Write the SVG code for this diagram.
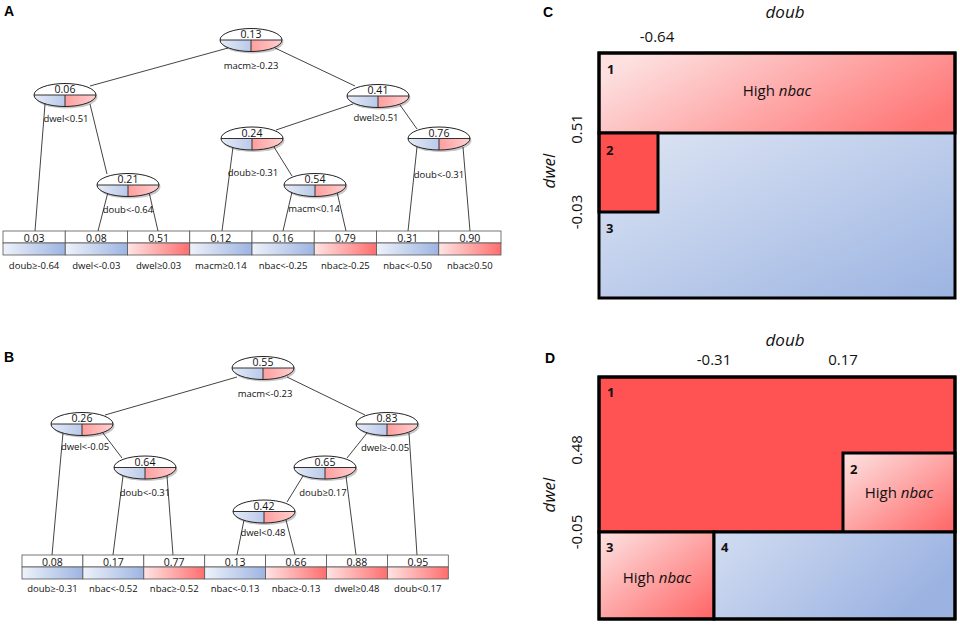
<svg xmlns="http://www.w3.org/2000/svg" width="960" height="626" viewBox="0 0 960 626">
<style>
.t{font-family:"Open Sans","Noto Sans","Liberation Sans",sans-serif;fill:#111}
.v{font-size:10.5px;text-anchor:middle}
.lb{font-size:9.5px;text-anchor:middle}
.pl{font-family:"Liberation Sans",Arial,sans-serif;font-weight:bold;font-size:14px;fill:#000}
.ax{font-size:17px;font-style:italic;text-anchor:middle}
.tk{font-size:15px;text-anchor:middle}
.hi{font-size:15px;text-anchor:middle}
.num{font-size:13px;font-weight:bold}
.cn line{stroke:#444;stroke-width:1}
.rb{stroke:#000;stroke-width:3}
.lt{fill:#fff;stroke:#555;stroke-width:0.8}
.lbB{fill:url(#lB);stroke:#555;stroke-width:0.8}
.lbR{fill:url(#lR);stroke:#555;stroke-width:0.8}
</style>
<defs>
<linearGradient id="gB" x1="0" y1="0" x2="1" y2="0"><stop offset="0" stop-color="#e6ecf7"/><stop offset="1" stop-color="#b9c9e9"/></linearGradient>
<linearGradient id="gR" x1="0" y1="0" x2="1" y2="0"><stop offset="0" stop-color="#ff9e9e"/><stop offset="1" stop-color="#ffd0d0"/></linearGradient>
<linearGradient id="lB" x1="0" y1="0" x2="1" y2="0"><stop offset="0" stop-color="#eef2fa"/><stop offset="1" stop-color="#9db4e2"/></linearGradient>
<linearGradient id="lR" x1="0" y1="0" x2="1" y2="0"><stop offset="0" stop-color="#ffe4e4"/><stop offset="1" stop-color="#ff6e6e"/></linearGradient>
<linearGradient id="c1" x1="0" y1="0.3" x2="1" y2="0.7"><stop offset="0" stop-color="#fde0e0"/><stop offset="1" stop-color="#ff7676"/></linearGradient>
<linearGradient id="cBl" x1="0" y1="0" x2="1" y2="1"><stop offset="0" stop-color="#dfe6f4"/><stop offset="1" stop-color="#9cb4e2"/></linearGradient>
<linearGradient id="dBl" x1="0" y1="0" x2="1" y2="0.4"><stop offset="0" stop-color="#d3ddf1"/><stop offset="1" stop-color="#9cb3e2"/></linearGradient>
<linearGradient id="dPk" x1="0" y1="0" x2="1" y2="1"><stop offset="0" stop-color="#fde4e4"/><stop offset="1" stop-color="#ff6464"/></linearGradient>
<g id="nd">
<ellipse cx="1.5" cy="2" rx="31" ry="11.5" fill="#000" opacity="0.22"/>
<ellipse rx="31" ry="11.5" fill="#fff"/>
<path d="M-31,0 A31,11.5 0 0 0 0,11.5 L0,0 Z" fill="url(#gB)"/>
<path d="M0,11.5 A31,11.5 0 0 0 31,0 L0,0 Z" fill="url(#gR)"/>
<path d="M-31,0 H31 M0,0 V11.5" stroke="#333" stroke-width="1" fill="none"/>
<ellipse rx="31" ry="11.5" fill="none" stroke="#222" stroke-width="1"/>
</g>
</defs>

<!-- Panel A -->
<text class="pl" x="4" y="16">A</text>
<g class="cn" id="connA">
<line x1="228" y1="48" x2="90" y2="86"/>
<line x1="275" y1="48" x2="355" y2="86"/>
<line x1="45" y1="104" x2="35" y2="231"/>
<line x1="90" y1="104" x2="107" y2="174"/>
<line x1="108" y1="192" x2="98" y2="231"/>
<line x1="149" y1="192" x2="158" y2="231"/>
<line x1="353" y1="104" x2="276" y2="130"/>
<line x1="400" y1="105" x2="417" y2="129"/>
<line x1="233" y1="147" x2="222" y2="231"/>
<line x1="274" y1="147" x2="292" y2="176"/>
<line x1="292" y1="192" x2="283" y2="231"/>
<line x1="337" y1="192" x2="346" y2="231"/>
<line x1="417" y1="147" x2="408" y2="231"/>
<line x1="463" y1="147" x2="470" y2="231"/>
</g>
<g id="a013"><use href="#nd" x="251" y="40"/><text class="t v" x="251" y="38">0.13</text><text class="t lb" x="251" y="69">macm≥-0.23</text></g>
<g id="a006"><use href="#nd" x="65" y="95"/><text class="t v" x="65" y="93">0.06</text><text class="t lb" x="66" y="122">dwel&lt;0.51</text></g>
<g id="a041"><use href="#nd" x="378" y="96"/><text class="t v" x="378" y="94">0.41</text><text class="t lb" x="376" y="121">dwel≥0.51</text></g>
<g id="a024"><use href="#nd" x="252" y="138.5"/><text class="t v" x="252" y="136.5">0.24</text><text class="t lb" x="253" y="176">doub≥-0.31</text></g>
<g id="a076"><use href="#nd" x="439" y="138.5"/><text class="t v" x="439" y="136.5">0.76</text><text class="t lb" x="439" y="178">doub&lt;-0.31</text></g>
<g id="a021"><use href="#nd" x="128" y="185"/><text class="t v" x="128" y="183">0.21</text><text class="t lb" x="128" y="213">doub&lt;-0.64</text></g>
<g id="a054"><use href="#nd" x="315" y="185"/><text class="t v" x="315" y="183">0.54</text><text class="t lb" x="314" y="212">macm&lt;0.14</text></g>

<g id="aLeaves">
<g id="aL1"><rect class="lt" x="3" y="231" width="62.25" height="12"/><rect class="lbB" x="3" y="243" width="62.25" height="12"/><text class="t v" x="34.1" y="241.5">0.03</text><text class="t lb" x="34.1" y="269">doub≥-0.64</text></g>
<g id="aL2"><rect class="lt" x="65.25" y="231" width="62.25" height="12"/><rect class="lbB" x="65.25" y="243" width="62.25" height="12"/><text class="t v" x="96.4" y="241.5">0.08</text><text class="t lb" x="96.4" y="269">dwel&lt;-0.03</text></g>
<g id="aL3"><rect class="lt" x="127.5" y="231" width="62.25" height="12"/><rect class="lbR" x="127.5" y="243" width="62.25" height="12"/><text class="t v" x="158.6" y="241.5">0.51</text><text class="t lb" x="158.6" y="269">dwel≥0.03</text></g>
<g id="aL4"><rect class="lt" x="189.75" y="231" width="62.25" height="12"/><rect class="lbB" x="189.75" y="243" width="62.25" height="12"/><text class="t v" x="220.9" y="241.5">0.12</text><text class="t lb" x="220.9" y="269">macm≥0.14</text></g>
<g id="aL5"><rect class="lt" x="252" y="231" width="62.25" height="12"/><rect class="lbB" x="252" y="243" width="62.25" height="12"/><text class="t v" x="283.1" y="241.5">0.16</text><text class="t lb" x="283.1" y="269">nbac&lt;-0.25</text></g>
<g id="aL6"><rect class="lt" x="314.25" y="231" width="62.25" height="12"/><rect class="lbR" x="314.25" y="243" width="62.25" height="12"/><text class="t v" x="345.4" y="241.5">0.79</text><text class="t lb" x="345.4" y="269">nbac≥-0.25</text></g>
<g id="aL7"><rect class="lt" x="376.5" y="231" width="62.25" height="12"/><rect class="lbB" x="376.5" y="243" width="62.25" height="12"/><text class="t v" x="407.6" y="241.5">0.31</text><text class="t lb" x="407.6" y="269">nbac&lt;-0.50</text></g>
<g id="aL8"><rect class="lt" x="438.75" y="231" width="62.25" height="12"/><rect class="lbR" x="438.75" y="243" width="62.25" height="12"/><text class="t v" x="469.9" y="241.5">0.90</text><text class="t lb" x="469.9" y="269">nbac≥0.50</text></g>
</g>

<!-- Panel B -->
<text class="pl" x="4" y="362">B</text>
<g class="cn" id="connB">
<line x1="237" y1="377" x2="105" y2="415"/>
<line x1="287" y1="377" x2="365" y2="415"/>
<line x1="63" y1="433" x2="52" y2="555"/>
<line x1="103" y1="433" x2="122" y2="458"/>
<line x1="123" y1="476" x2="113" y2="555"/>
<line x1="167" y1="476" x2="173" y2="555"/>
<line x1="367" y1="433" x2="347" y2="458"/>
<line x1="409" y1="433" x2="417" y2="555"/>
<line x1="303" y1="476" x2="287" y2="502"/>
<line x1="346" y1="476" x2="356" y2="555"/>
<line x1="244" y1="520" x2="237" y2="555"/>
<line x1="286" y1="520" x2="295" y2="555"/>
</g>
<g id="b055"><use href="#nd" x="263" y="368"/><text class="t v" x="263" y="366">0.55</text><text class="t lb" x="265" y="397">macm&lt;-0.23</text></g>
<g id="b026"><use href="#nd" x="82" y="424"/><text class="t v" x="82" y="422">0.26</text><text class="t lb" x="85" y="450">dwel&lt;-0.05</text></g>
<g id="b083"><use href="#nd" x="387" y="424"/><text class="t v" x="387" y="422">0.83</text><text class="t lb" x="385" y="451">dwel≥-0.05</text></g>
<g id="b064"><use href="#nd" x="145" y="467.5"/><text class="t v" x="145" y="465.5">0.64</text><text class="t lb" x="145" y="496">doub&lt;-0.31</text></g>
<g id="b065"><use href="#nd" x="325" y="467.5"/><text class="t v" x="325" y="465.5">0.65</text><text class="t lb" x="323" y="496">doub≥0.17</text></g>
<g id="b042"><use href="#nd" x="264" y="511.5"/><text class="t v" x="264" y="509.5">0.42</text><text class="t lb" x="263" y="536">dwel&lt;0.48</text></g>

<g id="bLeaves">
<g id="bL1"><rect class="lt" x="22" y="555" width="60.9" height="12"/><rect class="lbB" x="22" y="567" width="60.9" height="12"/><text class="t v" x="52.4" y="565.5">0.08</text><text class="t lb" x="52.4" y="592">doub≥-0.31</text></g>
<g id="bL2"><rect class="lt" x="82.9" y="555" width="60.9" height="12"/><rect class="lbB" x="82.9" y="567" width="60.9" height="12"/><text class="t v" x="113.3" y="565.5">0.17</text><text class="t lb" x="113.3" y="592">nbac&lt;-0.52</text></g>
<g id="bL3"><rect class="lt" x="143.8" y="555" width="60.9" height="12"/><rect class="lbR" x="143.8" y="567" width="60.9" height="12"/><text class="t v" x="174.2" y="565.5">0.77</text><text class="t lb" x="174.2" y="592">nbac≥-0.52</text></g>
<g id="bL4"><rect class="lt" x="204.7" y="555" width="60.9" height="12"/><rect class="lbB" x="204.7" y="567" width="60.9" height="12"/><text class="t v" x="235.1" y="565.5">0.13</text><text class="t lb" x="235.1" y="592">nbac&lt;-0.13</text></g>
<g id="bL5"><rect class="lt" x="265.6" y="555" width="60.9" height="12"/><rect class="lbR" x="265.6" y="567" width="60.9" height="12"/><text class="t v" x="296" y="565.5">0.66</text><text class="t lb" x="296" y="592">nbac≥-0.13</text></g>
<g id="bL6"><rect class="lt" x="326.5" y="555" width="60.9" height="12"/><rect class="lbR" x="326.5" y="567" width="60.9" height="12"/><text class="t v" x="356.9" y="565.5">0.88</text><text class="t lb" x="356.9" y="592">dwel≥0.48</text></g>
<g id="bL7"><rect class="lt" x="387.4" y="555" width="60.9" height="12"/><rect class="lbR" x="387.4" y="567" width="60.9" height="12"/><text class="t v" x="417.8" y="565.5">0.95</text><text class="t lb" x="417.8" y="592">doub&lt;0.17</text></g>
</g>

<!-- Panel C -->
<text class="pl" x="543" y="17">C</text>
<text class="t ax" x="785" y="18">doub</text>
<text class="t tk" x="657" y="42">-0.64</text>
<text class="t ax" transform="translate(555,171) rotate(-90)">dwel</text>
<text class="t tk" transform="translate(582,129) rotate(-90)">0.51</text>
<text class="t tk" transform="translate(582,212) rotate(-90)">-0.03</text>
<g id="cR3"><rect x="599" y="133" width="356" height="165" fill="url(#cBl)"/><text class="t num" x="606" y="233">3</text></g>
<g id="cR1"><rect x="599" y="53" width="356" height="80" fill="url(#c1)" class="rb"/><text class="t num" x="607" y="74">1</text><text class="t hi" x="777" y="96">High <tspan font-style="italic">nbac</tspan></text></g>
<g id="cR2"><rect x="599" y="133" width="59" height="79" fill="#ff5050" class="rb"/><text class="t num" x="606" y="155">2</text></g>
<rect x="599" y="53" width="356" height="245" fill="none" class="rb"/>

<!-- Panel D -->
<text class="pl" x="545" y="363">D</text>
<text class="t ax" x="785" y="346">doub</text>
<text class="t tk" x="714" y="365">-0.31</text>
<text class="t tk" x="843" y="365">0.17</text>
<text class="t ax" transform="translate(555,495) rotate(-90)">dwel</text>
<text class="t tk" transform="translate(582,450) rotate(-90)">0.48</text>
<text class="t tk" transform="translate(582,532) rotate(-90)">-0.05</text>
<g id="dR1"><rect x="599" y="377" width="356" height="155" fill="#ff5252" class="rb"/><text class="t num" x="607" y="397">1</text></g>
<g id="dR2"><rect x="843" y="453" width="112" height="79" fill="url(#dPk)" class="rb"/><text class="t num" x="850" y="474">2</text><text class="t hi" x="899" y="498">High <tspan font-style="italic">nbac</tspan></text></g>
<g id="dR3"><rect x="599" y="532" width="115" height="87" fill="url(#dPk)" class="rb"/><text class="t num" x="606" y="552">3</text><text class="t hi" x="657" y="583">High <tspan font-style="italic">nbac</tspan></text></g>
<g id="dR4"><rect x="714" y="532" width="241" height="87" fill="url(#dBl)" class="rb"/><text class="t num" x="721" y="552">4</text></g>
<rect x="599" y="377" width="356" height="242" fill="none" class="rb"/>
</svg>
